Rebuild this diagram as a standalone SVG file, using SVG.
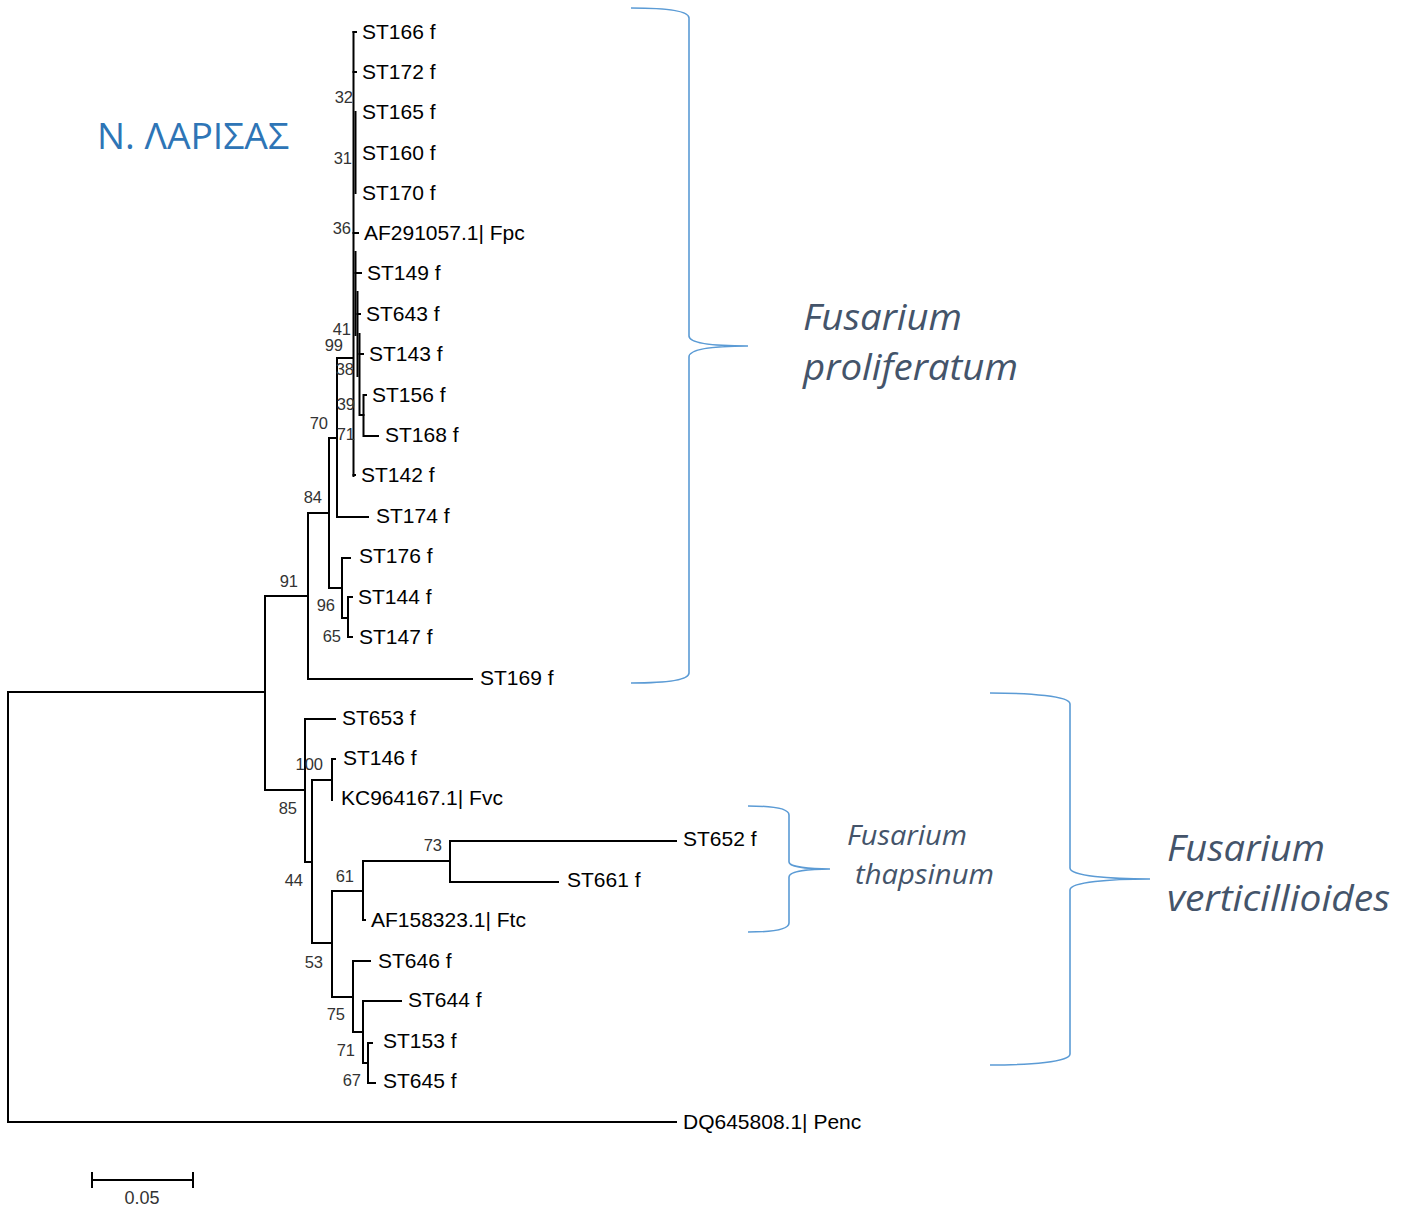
<svg xmlns="http://www.w3.org/2000/svg" width="1411" height="1207" viewBox="0 0 1411 1207">
  <style>
    .br { fill: none; stroke: #000; stroke-width: 2; stroke-linecap: square; }
    .leaf { font-family: "Liberation Sans", Arial, sans-serif; font-size: 21px; fill: #000; dominant-baseline: central; }
    .bs { font-family: "Liberation Sans", Arial, sans-serif; font-size: 16.5px; fill: #333; text-anchor: end; }
    .brace { fill: none; stroke: #5b9bd5; stroke-width: 1.6; }
    .sp { font-family: "Open Sans", "Noto Sans", sans-serif; font-style: italic; fill: #44546a; }
    .region { font-family: "Open Sans", "Noto Sans", sans-serif; fill: #2e75b6; }
  </style>

  <rect width="1411" height="1207" fill="#fff"/>

  <!-- branches of the tree -->
  <g id="connectors">
    <!-- root and outgroup -->
    <path class="br" d="M265,692 H8 V1122 H676"/>
    <!-- ingroup split -->
    <path class="br" d="M308,596 H265 V790 H305"/>
    <!-- proliferatum clade -->
    <path class="br" d="M329,513 H308 V679 H472"/>
    <path class="br" d="M337,438 H329 V588 H342"/>
    <path class="br" d="M353,358 H337 V517 H368"/>
    <path class="br" d="M342,558 H350"/>
    <path class="br" d="M342,558 V618 H348"/>
    <path class="br" d="M352,597 H348 V637 H352"/>
    <!-- near-zero length cluster -->
    <path class="br" d="M353.5,32 V476"/>
    <path class="br" d="M353.5,32 H356"/>
    <path class="br" d="M353.5,72 H356"/>
    <path class="br" d="M355.5,112 V193"/>
    <path class="br" d="M353.5,233 H358"/>
    <path class="br" d="M355.5,252 V335"/>
    <path class="br" d="M355.5,273 H361"/>
    <path class="br" d="M357.5,292 V376"/>
    <path class="br" d="M357.5,314 H360"/>
    <path class="br" d="M359.5,334 V415 H363.5"/>
    <path class="br" d="M359.5,354 H363"/>
    <path class="br" d="M366,395 H363.5 V436 H378"/>
    <path class="br" d="M353.5,475 H355"/>
    <!-- verticillioides / thapsinum clade -->
    <path class="br" d="M335,719 H305 V862 H312"/>
    <path class="br" d="M332,780 H312 V943 H332"/>
    <path class="br" d="M335,759 H332 V800"/>
    <path class="br" d="M363,891 H332 V997 H353"/>
    <path class="br" d="M450,861 H363 V920 H365"/>
    <path class="br" d="M676,841 H450 V882 H558"/>
    <path class="br" d="M370,961 H353 V1032 H363"/>
    <path class="br" d="M401,1001 H363 V1063 H368"/>
    <path class="br" d="M372,1043 H368 V1083 H375"/>
  </g>

  <!-- leaves -->
  <g id="leaf-ST166"><text class="leaf" x="362" y="31">ST166 f</text></g>
  <g id="leaf-ST172"><text class="leaf" x="362" y="71">ST172 f</text></g>
  <g id="leaf-ST165"><text class="leaf" x="362" y="111">ST165 f</text></g>
  <g id="leaf-ST160"><text class="leaf" x="362" y="152">ST160 f</text></g>
  <g id="leaf-ST170"><text class="leaf" x="362" y="192">ST170 f</text></g>
  <g id="leaf-AF291057"><text class="leaf" x="364" y="232">AF291057.1| Fpc</text></g>
  <g id="leaf-ST149"><text class="leaf" x="367" y="272">ST149 f</text></g>
  <g id="leaf-ST643"><text class="leaf" x="366" y="313">ST643 f</text></g>
  <g id="leaf-ST143"><text class="leaf" x="369" y="353">ST143 f</text></g>
  <g id="leaf-ST156"><text class="leaf" x="372" y="394">ST156 f</text></g>
  <g id="leaf-ST168"><text class="leaf" x="385" y="434">ST168 f</text></g>
  <g id="leaf-ST142"><text class="leaf" x="361" y="474">ST142 f</text></g>
  <g id="leaf-ST174"><text class="leaf" x="376" y="515">ST174 f</text></g>
  <g id="leaf-ST176"><text class="leaf" x="359" y="555">ST176 f</text></g>
  <g id="leaf-ST144"><text class="leaf" x="358" y="596">ST144 f</text></g>
  <g id="leaf-ST147"><text class="leaf" x="359" y="636">ST147 f</text></g>
  <g id="leaf-ST169"><text class="leaf" x="480" y="677">ST169 f</text></g>
  <g id="leaf-ST653"><text class="leaf" x="342" y="717">ST653 f</text></g>
  <g id="leaf-ST146"><text class="leaf" x="343" y="757">ST146 f</text></g>
  <g id="leaf-KC964167"><text class="leaf" x="341" y="797">KC964167.1| Fvc</text></g>
  <g id="leaf-ST652"><text class="leaf" x="683" y="838">ST652 f</text></g>
  <g id="leaf-ST661"><text class="leaf" x="567" y="879">ST661 f</text></g>
  <g id="leaf-AF158323"><text class="leaf" x="371" y="919">AF158323.1| Ftc</text></g>
  <g id="leaf-ST646"><text class="leaf" x="378" y="960">ST646 f</text></g>
  <g id="leaf-ST644"><text class="leaf" x="408" y="999">ST644 f</text></g>
  <g id="leaf-ST153"><text class="leaf" x="383" y="1040">ST153 f</text></g>
  <g id="leaf-ST645"><text class="leaf" x="383" y="1080">ST645 f</text></g>
  <g id="leaf-DQ645808"><text class="leaf" x="683" y="1121">DQ645808.1| Penc</text></g>

  <!-- bootstrap support values -->
  <g id="support">
    <text class="bs" x="353" y="103">32</text>
    <text class="bs" x="352" y="164">31</text>
    <text class="bs" x="351" y="234">36</text>
    <text class="bs" x="351" y="335">41</text>
    <text class="bs" x="343" y="351">99</text>
    <text class="bs" x="354" y="375">38</text>
    <text class="bs" x="355" y="410">39</text>
    <text class="bs" x="328" y="429">70</text>
    <text class="bs" x="355" y="440">71</text>
    <text class="bs" x="322" y="503">84</text>
    <text class="bs" x="298" y="587">91</text>
    <text class="bs" x="335" y="611">96</text>
    <text class="bs" x="341" y="642">65</text>
    <text class="bs" x="323" y="770">100</text>
    <text class="bs" x="297" y="814">85</text>
    <text class="bs" x="442" y="851">73</text>
    <text class="bs" x="354" y="882">61</text>
    <text class="bs" x="303" y="886">44</text>
    <text class="bs" x="323" y="968">53</text>
    <text class="bs" x="345" y="1020">75</text>
    <text class="bs" x="355" y="1056">71</text>
    <text class="bs" x="361" y="1086">67</text>
  </g>

  <!-- scale bar -->
  <g id="scale-bar">
    <path class="br" d="M92,1180 H193 M92,1173 V1187 M193,1173 V1187" stroke-linecap="butt"/>
    <text x="142" y="1204" text-anchor="middle" font-family="'Liberation Sans', Arial, sans-serif" font-size="18" fill="#333">0.05</text>
  </g>

  <!-- region title -->
  <g id="region-label">
    <text class="region" x="97" y="149" font-size="36" textLength="192" lengthAdjust="spacingAndGlyphs">Ν. ΛΑΡΙΣΑΣ</text>
  </g>

  <!-- species brackets -->
  <g id="group-proliferatum">
    <path class="brace" d="M631,8 C660,8 689,10 689,18 V336 C689,344 720,346 748,346 C720,346 689,348 689,357 V673 C689,681 660,683 631,683"/>
    <text class="sp" x="803" y="330" font-size="36" textLength="159" lengthAdjust="spacingAndGlyphs">Fusarium</text>
    <text class="sp" x="803" y="380" font-size="36" textLength="215" lengthAdjust="spacingAndGlyphs">proliferatum</text>
  </g>
  <g id="group-thapsinum">
    <path class="brace" d="M748,806 C770,806 789,808 789,815 V862 C789,867 810,869 830,869 C810,869 789,871 789,877 V923 C789,930 770,932 748,932"/>
    <text class="sp" x="847" y="845" font-size="27" textLength="120" lengthAdjust="spacingAndGlyphs">Fusarium</text>
    <text class="sp" x="855" y="884" font-size="27" textLength="139" lengthAdjust="spacingAndGlyphs">thapsinum</text>
  </g>
  <g id="group-verticillioides">
    <path class="brace" d="M990,693 C1030,693 1070,696 1070,704 V868 C1070,876 1110,879 1150,879 C1110,879 1070,882 1070,890 V1054 C1070,1062 1030,1065 990,1065"/>
    <text class="sp" x="1167" y="861" font-size="36" textLength="158" lengthAdjust="spacingAndGlyphs">Fusarium</text>
    <text class="sp" x="1167" y="911" font-size="36" textLength="223" lengthAdjust="spacingAndGlyphs">verticillioides</text>
  </g>
</svg>
